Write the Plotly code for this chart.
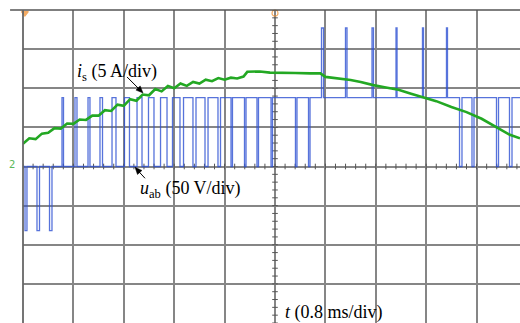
import plotly.graph_objects as go

# ---- data ----
# u_ab : switching instants (ms) and level after each instant (V)
uab_switch_ms = [0.000, 0.032, 0.063, 0.222, 0.262, 0.421, 0.460,
                 0.619, 0.643, 0.825, 0.857, 1.032, 1.063, 1.222, 1.262,
                 1.413, 1.476, 1.611, 1.690, 1.810, 1.889, 1.992, 2.079,
                 2.183, 2.286, 2.373, 2.492, 2.548, 2.698, 2.746, 2.889,
                 2.937, 3.095, 3.135, 3.302, 3.325, 3.516, 3.540, 3.714,
                 3.738, 3.937, 3.960, 4.325, 4.349, 4.532, 4.556, 4.738,
                 4.770, 5.119, 5.143, 5.540, 5.563, 5.921, 5.937, 6.341,
                 6.357, 6.722, 6.738, 6.929, 6.968, 7.127, 7.159, 7.516,
                 7.548, 7.722, 7.762, 7.889]
uab_level_V = [0, -82, 0, -82, 0, -82, 0,
               88, 0, 88, 0, 88, 0, 88, 0,
               88, 0, 88, 0, 88, 0, 88, 0,
               88, 0, 88, 0, 88, 0, 88, 0,
               88, 0, 88, 0, 88, 0, 88, 0,
               88, 0, 88, 0, 88, 0, 88, 177,
               88, 177, 88, 177, 88, 177, 88, 177,
               88, 177, 88, 0, 88, 0, 88, 0,
               88, 0, 88, 88]

# i_s : current samples (ms, A)
is_t_ms = [0.0, 0.1, 0.2, 0.3, 0.4, 0.5, 0.6, 0.7, 0.8, 0.9, 1.0, 1.1, 1.2,
           1.3, 1.4, 1.5, 1.6, 1.7, 1.8, 1.9, 2.0, 2.1, 2.2, 2.3, 2.4, 2.5,
           2.6, 2.7, 2.8, 2.9, 3.0, 3.1, 3.2, 3.3, 3.4, 3.5, 3.56, 3.76,
           3.92, 4.08, 4.32, 4.56, 4.72, 4.8, 5.04, 5.2, 5.36, 5.56, 5.76,
           5.96, 6.16, 6.36, 6.56, 6.8, 7.04, 7.28, 7.52, 7.728, 7.889]
is_A = [2.9, 3.6, 3.5, 4.2, 4.3, 4.9, 4.85, 5.5, 5.45, 6.0, 5.95, 6.5, 6.5,
        7.2, 7.1, 7.9, 7.75, 8.6, 8.4, 9.2, 9.1, 9.9, 9.6, 10.3, 10.0, 10.6,
        10.3, 10.8, 10.6, 11.1, 10.9, 11.3, 11.1, 11.35, 11.25, 11.5, 12.1,
        12.15, 12.0, 12.0, 11.95, 11.9, 11.9, 11.45, 11.25, 11.05, 10.8,
        10.4, 10.1, 9.8, 9.3, 8.8, 8.35, 7.6, 6.95, 6.1, 5.05, 4.05, 3.6]

# scope settings
T_DIV_MS = 0.8
V_DIV = 50
A_DIV = 5
X_END_MS = 7.889

GRID = "#868686"
FONT = "Liberation Serif"

fig = go.Figure()

# minor ticks on the centre cross
cx = 5 * T_DIV_MS
fig.add_trace(go.Scatter(
    x=[cx] * 41, y=[-200 + 10 * k for k in range(41)], mode="markers",
    marker=dict(symbol="line-ew", size=4, line=dict(width=1, color="#555")),
    showlegend=False, hoverinfo="skip"))
fig.add_trace(go.Scatter(
    x=[0.16 * k for k in range(50)], y=[0] * 50, mode="markers",
    marker=dict(symbol="line-ns", size=4, line=dict(width=1, color="#555")),
    showlegend=False, hoverinfo="skip"))

fig.add_trace(go.Scatter(
    x=uab_switch_ms, y=uab_level_V, mode="lines", line_shape="hv",
    line=dict(color="rgba(45,80,210,0.8)", width=1.3),
    showlegend=False, hoverinfo="skip"))

fig.add_trace(go.Scatter(
    x=is_t_ms, y=is_A, yaxis="y2", mode="lines",
    line=dict(color="#23a823", width=2.6),
    showlegend=False, hoverinfo="skip"))

# trigger / position markers
fig.add_trace(go.Scatter(
    x=[0.03, cx], y=[196, 196], mode="markers", cliponaxis=False,
    marker=dict(symbol=["triangle-down", "circle-open"], size=[6, 6],
                color="#f08a24", line=dict(width=1.2, color="#f08a24")),
    showlegend=False, hoverinfo="skip"))

fig.update_layout(
    width=520, height=323,
    margin=dict(l=23, r=0, t=10, b=0),
    paper_bgcolor="white", plot_bgcolor="white",
    xaxis=dict(range=[0, X_END_MS], dtick=T_DIV_MS, tick0=0, showgrid=True,
               gridcolor=GRID, gridwidth=1.7, zeroline=False,
               showticklabels=False, ticks=""),
    yaxis=dict(range=[-4 * V_DIV, 4 * V_DIV], dtick=V_DIV, tick0=0,
               showgrid=True, gridcolor=GRID, gridwidth=1.7, zeroline=False,
               showticklabels=False, ticks=""),
    yaxis2=dict(range=[-4 * A_DIV, 4 * A_DIV], overlaying="y", visible=False),
)

# frame lines (top and left)
fig.add_shape(type="line", xref="paper", yref="paper", x0=-0.026, x1=1,
              y0=1, y1=1, line=dict(color="#555", width=1.6))
fig.add_shape(type="line", xref="paper", yref="paper", x0=0, x1=0,
              y0=0, y1=1, line=dict(color="#666", width=1.8))


def arrow(hx, hy, tail_px, tri_px):
    """Arrow drawn in pixel offsets around a head anchored at data point."""
    fig.add_shape(type="line", xref="x", yref="y", xsizemode="pixel",
                  ysizemode="pixel", xanchor=hx, yanchor=hy,
                  x0=tail_px[0], y0=tail_px[1], x1=tail_px[2], y1=tail_px[3],
                  line=dict(color="black", width=1))
    p = tri_px
    fig.add_shape(type="path", xref="x", yref="y", xsizemode="pixel",
                  ysizemode="pixel", xanchor=hx, yanchor=hy,
                  path=f"M0,0 L{p[0]},{p[1]} L{p[2]},{p[3]} Z",
                  fillcolor="black", line=dict(color="black", width=0.5))


arrow(1.905, 94, (-16, 16, -4, 4), (-2.83, 7.07, -7.07, 2.83))
arrow(1.778, -1, (10, -11, 4, -4.5), (6.93, -3.16, 2.49, -7.20))

tf = dict(family=FONT, size=18, color="black")
fig.add_annotation(x=0.825, y=120, xref="x", yref="y", xanchor="left",
                   yanchor="middle", showarrow=False, font=tf,
                   text="<i>i</i><sub>s</sub> (5 A/div)")
fig.add_annotation(x=1.825, y=-29, xref="x", yref="y", xanchor="left",
                   yanchor="middle", showarrow=False, font=tf,
                   text="<i>u</i><sub>ab</sub> (50 V/div)")
fig.add_annotation(x=4.127, y=-186, xref="x", yref="y", xanchor="left",
                   yanchor="middle", showarrow=False, font=tf,
                   text="<i>t</i> (0.8 ms/div)")
fig.add_annotation(x=-0.022, y=3, xref="paper", yref="y", xanchor="center",
                   yanchor="middle", showarrow=False,
                   font=dict(family="DejaVu Sans", size=10, color="#5ab85a"),
                   text="2")

fig.write_html("out.html")
